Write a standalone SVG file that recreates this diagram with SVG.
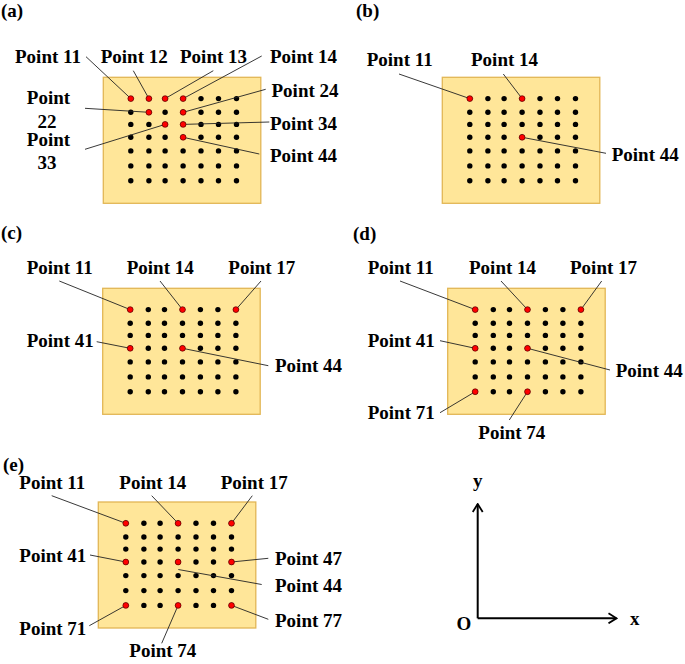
<svg xmlns="http://www.w3.org/2000/svg" xmlns:xlink="http://www.w3.org/1999/xlink" width="685" height="664" viewBox="0 0 685 664">
<style>
text{font-family:"Liberation Serif","Times New Roman",serif;font-weight:bold;font-size:19px;fill:#000}
.board{fill:#FFE699;stroke:#E2B655;stroke-width:1.3}
.dot{fill:#000}
.red{fill:#FF0000;stroke:#5a0000;stroke-width:0.7}
.lead{stroke:#222;stroke-width:0.9;fill:none}
.axis{stroke:#000;stroke-width:2;fill:none}
</style>
<defs>
<g id="grid">
<g id="row">
<circle class="dot" cx="27.5" cy="0" r="2.7"/><circle class="dot" cx="45.6" cy="0" r="2.7"/><circle class="dot" cx="61.8" cy="0" r="2.7"/><circle class="dot" cx="79.8" cy="0" r="2.7"/><circle class="dot" cx="97.7" cy="0" r="2.7"/><circle class="dot" cx="115.2" cy="0" r="2.7"/><circle class="dot" cx="133.2" cy="0" r="2.7"/>
</g>
</g>
<g id="dots">
<use xlink:href="#row" y="21.3"/><use xlink:href="#row" y="35"/><use xlink:href="#row" y="47.1"/><use xlink:href="#row" y="60"/><use xlink:href="#row" y="73.6"/><use xlink:href="#row" y="88.6"/><use xlink:href="#row" y="103.4"/>
</g>
<marker id="arr" viewBox="0 0 10 12" refX="9" refY="6" markerWidth="10" markerHeight="12" markerUnits="userSpaceOnUse" orient="auto">
<polyline points="1,1 9,6 1,11" fill="none" stroke="#000" stroke-width="1.8"/>
</marker>
</defs>

<!-- panel labels -->
<text x="1" y="17">(a)</text>
<text x="356" y="17">(b)</text>
<text x="1" y="239">(c)</text>
<text x="353" y="240">(d)</text>
<text x="3" y="471">(e)</text>

<!-- boards -->
<g id="board-a"><rect class="board" x="103.3" y="77.3" width="157.5" height="126"/><use xlink:href="#dots" x="103.3" y="77.3"/></g>
<g id="board-b"><rect class="board" x="442.3" y="77.3" width="157.5" height="126"/><use xlink:href="#dots" x="442.3" y="77.3"/></g>
<g id="board-c"><rect class="board" x="102.7" y="288.3" width="157.5" height="126"/><use xlink:href="#dots" x="102.7" y="288.3"/></g>
<g id="board-d"><rect class="board" x="447.7" y="288.3" width="157.5" height="126"/><use xlink:href="#dots" x="447.7" y="288.3"/></g>
<g id="board-e"><rect class="board" x="98.3" y="502" width="157.5" height="126"/><use xlink:href="#dots" x="98.3" y="502"/></g>

<!-- connectors -->
<g id="connectors">
<line class="lead" x1="86" y1="56.7" x2="130.8" y2="98.6"/>
<line class="lead" x1="133.3" y1="70.7" x2="148.9" y2="98.6"/>
<line class="lead" x1="213.3" y1="70.7" x2="165.1" y2="98.6"/>
<line class="lead" x1="261.7" y1="56" x2="183.1" y2="98.6"/>
<line class="lead" x1="265.7" y1="89.3" x2="183.1" y2="112.3"/>
<line class="lead" x1="269.3" y1="122" x2="183.1" y2="124.4"/>
<line class="lead" x1="259.3" y1="154" x2="183.1" y2="137.3"/>
<line class="lead" x1="85" y1="108.3" x2="148.9" y2="112.3"/>
<line class="lead" x1="85" y1="149.3" x2="165.1" y2="124.4"/>

<line class="lead" x1="399" y1="74" x2="469.8" y2="98.6"/>
<line class="lead" x1="503.3" y1="74" x2="522.1" y2="98.6"/>
<line class="lead" x1="606" y1="153.3" x2="522.1" y2="137.3"/>

<line class="lead" x1="59.3" y1="281" x2="130.2" y2="309.6"/>
<line class="lead" x1="160" y1="281" x2="182.5" y2="309.6"/>
<line class="lead" x1="261" y1="281" x2="235.9" y2="309.6"/>
<line class="lead" x1="96.7" y1="341.7" x2="130.2" y2="348.3"/>
<line class="lead" x1="268.3" y1="365.7" x2="182.5" y2="348.3"/>

<line class="lead" x1="400" y1="281" x2="475.2" y2="309.6"/>
<line class="lead" x1="501" y1="281" x2="527.5" y2="309.6"/>
<line class="lead" x1="601.7" y1="281" x2="580.9" y2="309.6"/>
<line class="lead" x1="440" y1="340.7" x2="475.2" y2="348.3"/>
<line class="lead" x1="610" y1="370" x2="527.5" y2="348.3"/>
<line class="lead" x1="440" y1="412.7" x2="475.2" y2="391.7"/>
<line class="lead" x1="509.3" y1="420" x2="527.5" y2="391.7"/>

<line class="lead" x1="51.7" y1="495.7" x2="125.8" y2="523.3"/>
<line class="lead" x1="151.7" y1="495.7" x2="178.1" y2="523.3"/>
<line class="lead" x1="252.3" y1="495.7" x2="231.5" y2="523.3"/>
<line class="lead" x1="90" y1="555" x2="125.8" y2="562"/>
<line class="lead" x1="268.3" y1="558.3" x2="231.5" y2="562"/>
<line class="lead" x1="261.7" y1="584.5" x2="178.3" y2="569.5"/>
<line class="lead" x1="89.3" y1="625.7" x2="125.8" y2="605.4"/>
<line class="lead" x1="161.7" y1="643.3" x2="178.1" y2="605.4"/>
<line class="lead" x1="268.3" y1="619.3" x2="231.5" y2="605.4"/>
</g>

<!-- red measuring points -->
<g id="red-a">
<circle class="red" cx="130.8" cy="98.6" r="2.9"/><circle class="red" cx="148.9" cy="98.6" r="2.9"/><circle class="red" cx="165.1" cy="98.6" r="2.9"/><circle class="red" cx="183.1" cy="98.6" r="2.9"/>
<circle class="red" cx="148.9" cy="112.3" r="2.9"/><circle class="red" cx="183.1" cy="112.3" r="2.9"/>
<circle class="red" cx="165.1" cy="124.4" r="2.9"/><circle class="red" cx="183.1" cy="124.4" r="2.9"/>
<circle class="red" cx="183.1" cy="137.3" r="2.9"/>
</g>
<g id="red-b">
<circle class="red" cx="469.8" cy="98.6" r="2.9"/><circle class="red" cx="522.1" cy="98.6" r="2.9"/><circle class="red" cx="522.1" cy="137.3" r="2.9"/>
</g>
<g id="red-c">
<circle class="red" cx="130.2" cy="309.6" r="2.9"/><circle class="red" cx="182.5" cy="309.6" r="2.9"/><circle class="red" cx="235.9" cy="309.6" r="2.9"/>
<circle class="red" cx="130.2" cy="348.3" r="2.9"/><circle class="red" cx="182.5" cy="348.3" r="2.9"/>
</g>
<g id="red-d">
<circle class="red" cx="475.2" cy="309.6" r="2.9"/><circle class="red" cx="527.5" cy="309.6" r="2.9"/><circle class="red" cx="580.9" cy="309.6" r="2.9"/>
<circle class="red" cx="475.2" cy="348.3" r="2.9"/><circle class="red" cx="527.5" cy="348.3" r="2.9"/>
<circle class="red" cx="475.2" cy="391.7" r="2.9"/><circle class="red" cx="527.5" cy="391.7" r="2.9"/>
</g>
<g id="red-e">
<circle class="red" cx="125.8" cy="523.3" r="2.9"/><circle class="red" cx="178.1" cy="523.3" r="2.9"/><circle class="red" cx="231.5" cy="523.3" r="2.9"/>
<circle class="red" cx="125.8" cy="562" r="2.9"/><circle class="red" cx="178.1" cy="562" r="2.9"/><circle class="red" cx="231.5" cy="562" r="2.9"/>
<circle class="red" cx="125.8" cy="605.4" r="2.9"/><circle class="red" cx="178.1" cy="605.4" r="2.9"/><circle class="red" cx="231.5" cy="605.4" r="2.9"/>
</g>

<!-- labels -->
<g id="labels-a">
<text x="15" y="63">Point 11</text>
<text x="100.7" y="63">Point 12</text>
<text x="180" y="63">Point 13</text>
<text x="270" y="63">Point 14</text>
<text x="271.5" y="97">Point 24</text>
<text x="270" y="129.5">Point 34</text>
<text x="270" y="162">Point 44</text>
<text x="48.5" y="104" text-anchor="middle">Point</text>
<text x="47" y="127.5" text-anchor="middle">22</text>
<text x="48.5" y="145.5" text-anchor="middle">Point</text>
<text x="47" y="168.5" text-anchor="middle">33</text>
</g>
<g id="labels-b">
<text x="366.7" y="66">Point 11</text>
<text x="471" y="66">Point 14</text>
<text x="611.7" y="161">Point 44</text>
</g>
<g id="labels-c">
<text x="26.7" y="273.5">Point 11</text>
<text x="126.7" y="273.5">Point 14</text>
<text x="228.3" y="273.5">Point 17</text>
<text x="26.7" y="346.7">Point 41</text>
<text x="275" y="372">Point 44</text>
</g>
<g id="labels-d">
<text x="367.7" y="273.5">Point 11</text>
<text x="469" y="273.5">Point 14</text>
<text x="570" y="273.5">Point 17</text>
<text x="367.7" y="346.7">Point 41</text>
<text x="615.7" y="377">Point 44</text>
<text x="367.7" y="419">Point 71</text>
<text x="478.3" y="438.5">Point 74</text>
</g>
<g id="labels-e">
<text x="19.3" y="488.5">Point 11</text>
<text x="119.3" y="488.5">Point 14</text>
<text x="220.7" y="488.5">Point 17</text>
<text x="19.3" y="561.7">Point 41</text>
<text x="275" y="565">Point 47</text>
<text x="275" y="592">Point 44</text>
<text x="19.3" y="635">Point 71</text>
<text x="275" y="627">Point 77</text>
<text x="129.3" y="657">Point 74</text>
</g>

<!-- coordinate axes -->
<g id="axes">
<line class="axis" x1="477.7" y1="618.3" x2="477.7" y2="504" marker-end="url(#arr)"/>
<line class="axis" x1="477.7" y1="618.3" x2="616.5" y2="618.3" marker-end="url(#arr)"/>
<text x="473" y="487">y</text>
<text x="456.5" y="630">O</text>
<text x="630" y="625">x</text>
</g>
</svg>
